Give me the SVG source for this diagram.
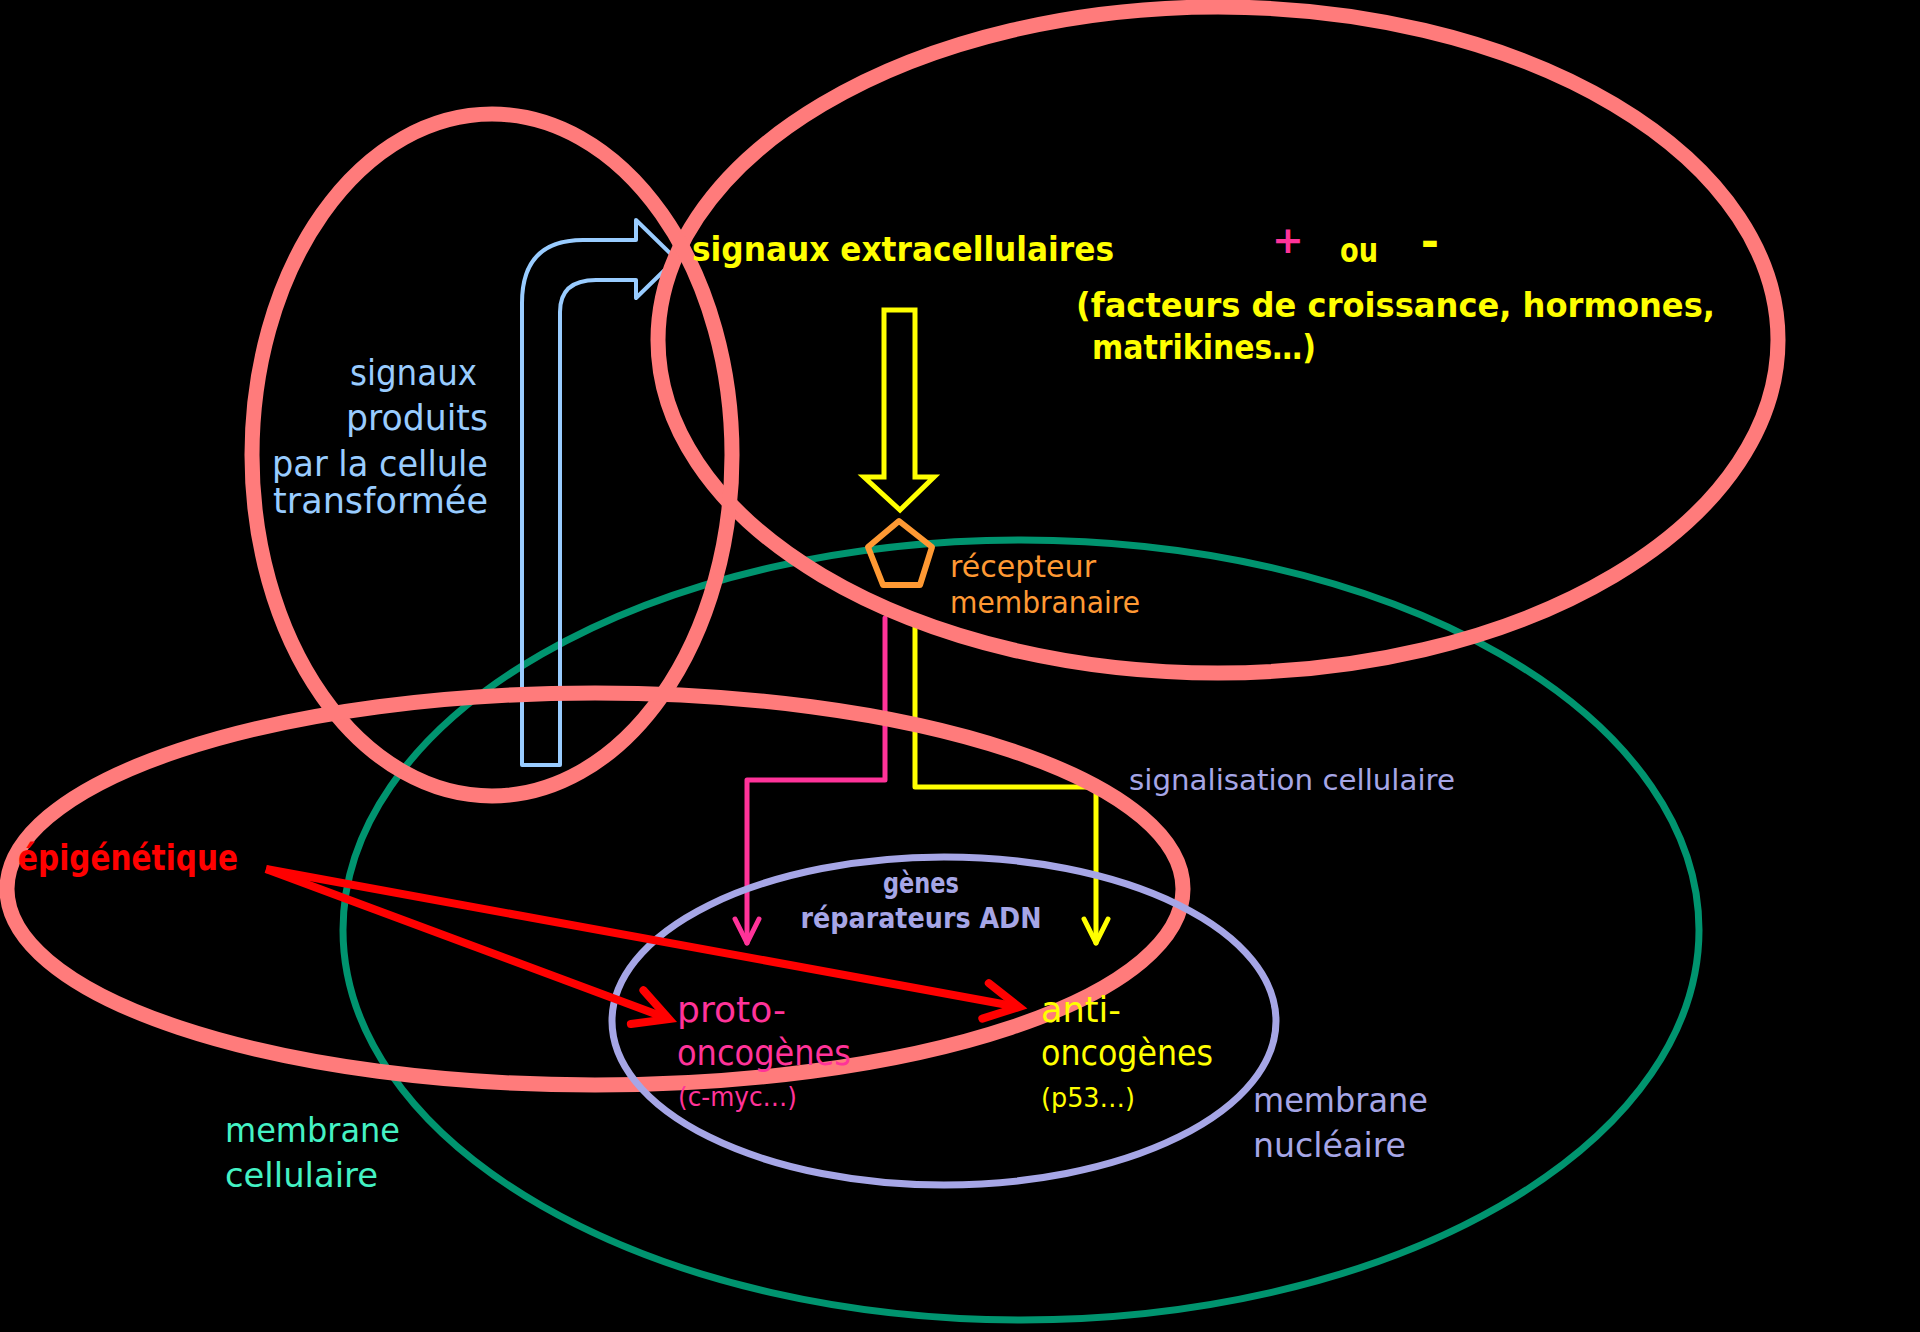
<svg xmlns="http://www.w3.org/2000/svg" width="1920" height="1332" viewBox="0 0 1920 1332">
<defs>
<style>
text{font-family:"DejaVu Sans","Liberation Sans",sans-serif;}
.b{font-weight:bold;}
.ell{fill:none;}
.pinkE{stroke:#ff7b7b;stroke-width:15;}
.greenE{stroke:#00946f;stroke-width:7;}
.lavE{stroke:#a6a6e6;stroke-width:7;}
.conn{fill:none;stroke-width:5;stroke-linejoin:round;stroke-linecap:round;}
.red{fill:none;stroke:#ff0000;stroke-width:8;}
</style>
<marker id="mPink" markerUnits="userSpaceOnUse" markerWidth="40" markerHeight="40" viewBox="-30 -20 40 40" refX="0" refY="0" orient="auto">
<path d="M -24 -12 L 0 0 L -24 12" fill="none" stroke="#ff3399" stroke-width="5" stroke-linecap="round" stroke-linejoin="round"/>
</marker>
<marker id="mYel" markerUnits="userSpaceOnUse" markerWidth="40" markerHeight="40" viewBox="-30 -20 40 40" refX="0" refY="0" orient="auto">
<path d="M -24 -12 L 0 0 L -24 12" fill="none" stroke="#ffff00" stroke-width="5" stroke-linecap="round" stroke-linejoin="round"/>
</marker>
<marker id="mRed" markerUnits="userSpaceOnUse" markerWidth="60" markerHeight="60" viewBox="-45 -30 60 60" refX="0" refY="0" orient="auto">
<path d="M -34 -18 L 0 0 L -34 18" fill="none" stroke="#ff0000" stroke-width="8" stroke-linecap="round" stroke-linejoin="miter"/>
</marker>
</defs>
<rect width="1920" height="1332" fill="#000000"/>

<g id="membrane-cellulaire-ellipse">
<ellipse class="ell greenE" cx="1021" cy="930" rx="678" ry="390"/>
</g>

<g id="signaux-produits-arrow">
<path d="M 522 765 L 522 303 Q 522 240 583 240 L 636 240 L 636 220 L 676 259 L 636 298 L 636 280 L 596 280 Q 560 280 560 312 L 560 765 Z" fill="none" stroke="#99ccff" stroke-width="4" stroke-linejoin="round"/>
</g>

<g id="recepteur">
<polygon points="899,521 932,547 920,585 883,585 868,547" fill="none" stroke="#ff9933" stroke-width="6" stroke-linejoin="round"/>
</g>

<g id="yellow-big-arrow">
<path d="M 884 310 L 915 310 L 915 477 L 934 477 L 900 510 L 864 477 L 884 477 Z" fill="none" stroke="#ffff00" stroke-width="5"/>
</g>

<g id="connectors">
<polyline class="conn" points="885,618 885,780 747,780 747,943" stroke="#ff3399" marker-end="url(#mPink)"/>
<polyline class="conn" points="915,618 915,787 1096,787 1096,943" stroke="#ffff00" marker-end="url(#mYel)"/>
</g>

<g id="pink-ellipses">
<ellipse class="ell pinkE" cx="1218" cy="340" rx="560" ry="333"/>
<ellipse class="ell pinkE" cx="492" cy="455" rx="240" ry="341"/>
<ellipse class="ell pinkE" cx="595" cy="889" rx="588" ry="196"/>
</g>

<g id="membrane-nucleaire-ellipse">
<ellipse class="ell lavE" cx="944" cy="1021" rx="332" ry="164"/>
</g>

<g id="red-arrows">
<line class="red" x1="266" y1="869" x2="669" y2="1019" marker-end="url(#mRed)"/>
<line class="red" x1="266" y1="869" x2="1019" y2="1007" marker-end="url(#mRed)"/>
</g>

<g id="signaux-extracellulaires">
<text class="b" x="692" y="261" font-size="34" fill="#ffff00" textLength="422" lengthAdjust="spacingAndGlyphs">signaux extracellulaires</text>
<text class="b" x="1288" y="253" font-size="38" fill="#ff3399" text-anchor="middle">+</text>
<text class="b" x="1340" y="262" font-size="34" fill="#ffff00" textLength="38" lengthAdjust="spacingAndGlyphs">ou</text>
<text class="b" x="1430" y="257" font-size="44" fill="#ffff00" text-anchor="middle">-</text>
<text class="b" x="1076" y="317" font-size="34" fill="#ffff00" textLength="639" lengthAdjust="spacingAndGlyphs">(facteurs de croissance, hormones,</text>
<text class="b" x="1092" y="359" font-size="34" fill="#ffff00" textLength="224" lengthAdjust="spacingAndGlyphs">matrikines…)</text>
</g>

<g id="signaux-produits" font-size="36" fill="#99ccff" text-anchor="end">
<text x="477" y="385" textLength="127" lengthAdjust="spacingAndGlyphs">signaux</text>
<text x="488" y="430" textLength="142" lengthAdjust="spacingAndGlyphs">produits</text>
<text x="488" y="476" textLength="216" lengthAdjust="spacingAndGlyphs">par la cellule</text>
<text x="488" y="513" textLength="215" lengthAdjust="spacingAndGlyphs">transformée</text>
</g>

<g id="recepteur-label" font-size="30" fill="#ff9933">
<text x="950" y="577" textLength="146" lengthAdjust="spacingAndGlyphs">récepteur</text>
<text x="950" y="613" textLength="190" lengthAdjust="spacingAndGlyphs">membranaire</text>
</g>

<g id="signalisation-label">
<text x="1129" y="790" font-size="29" fill="#a6a6e6" textLength="326" lengthAdjust="spacingAndGlyphs">signalisation cellulaire</text>
</g>

<g id="genes-reparateurs" class="b" font-size="28" fill="#a6a6e6" text-anchor="middle">
<text x="921" y="893" textLength="76" lengthAdjust="spacingAndGlyphs">gènes</text>
<text x="921" y="928" textLength="241" lengthAdjust="spacingAndGlyphs">réparateurs ADN</text>
</g>

<g id="epigenetique">
<text class="b" x="18" y="870" font-size="35" fill="#ff0000" textLength="220" lengthAdjust="spacingAndGlyphs">épigénétique</text>
</g>

<g id="proto-oncogenes" fill="#ff3399">
<text x="677" y="1022" font-size="35" textLength="109" lengthAdjust="spacingAndGlyphs">proto-</text>
<text x="677" y="1065" font-size="35" textLength="174" lengthAdjust="spacingAndGlyphs">oncogènes</text>
<text x="678" y="1106" font-size="27" textLength="119" lengthAdjust="spacingAndGlyphs">(c-myc…)</text>
</g>

<g id="anti-oncogenes" fill="#ffff00">
<text x="1041" y="1022" font-size="35" textLength="80" lengthAdjust="spacingAndGlyphs">anti-</text>
<text x="1041" y="1065" font-size="35" textLength="172" lengthAdjust="spacingAndGlyphs">oncogènes</text>
<text x="1041" y="1107" font-size="27" textLength="94" lengthAdjust="spacingAndGlyphs">(p53…)</text>
</g>

<g id="membrane-nucleaire-label" font-size="34" fill="#a6a6e6">
<text x="1253" y="1112" textLength="175" lengthAdjust="spacingAndGlyphs">membrane</text>
<text x="1253" y="1157" textLength="153" lengthAdjust="spacingAndGlyphs">nucléaire</text>
</g>

<g id="membrane-cellulaire-label" font-size="34" fill="#44f2c4">
<text x="225" y="1142" textLength="175" lengthAdjust="spacingAndGlyphs">membrane</text>
<text x="225" y="1187" textLength="153" lengthAdjust="spacingAndGlyphs">cellulaire</text>
</g>
</svg>
